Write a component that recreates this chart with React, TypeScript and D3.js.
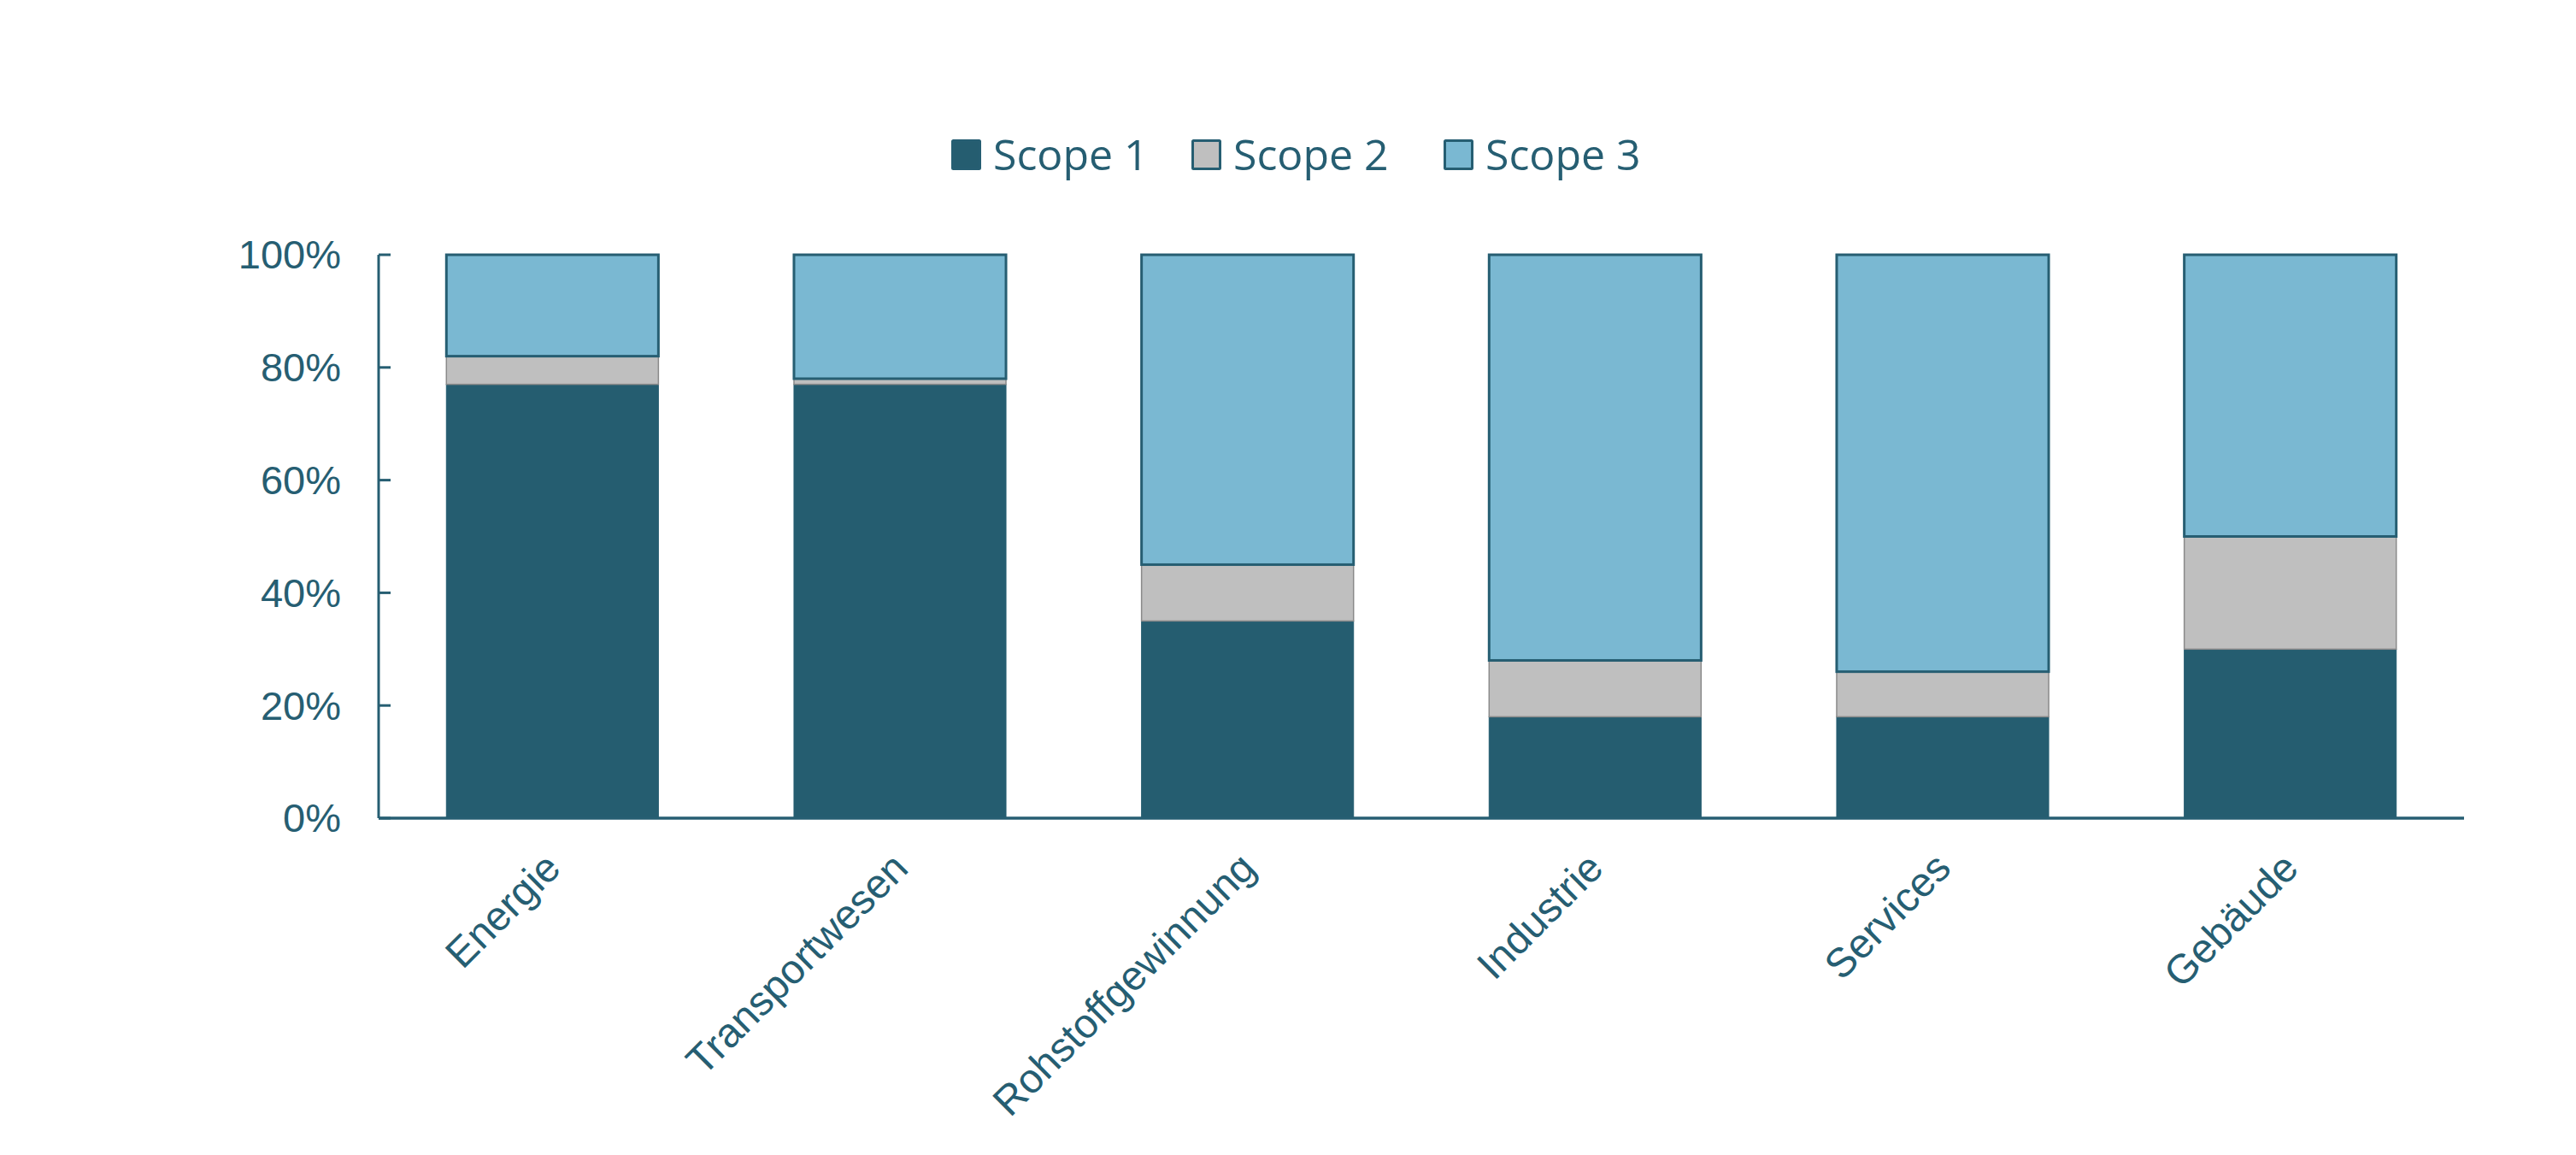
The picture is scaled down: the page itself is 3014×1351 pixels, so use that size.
import React from 'react';
import * as d3 from 'd3';

const categories = ['Energie', 'Transportwesen', 'Rohstoffgewinnung', 'Industrie', 'Services', 'Gebäude'];
const scope1 = [77, 77, 35, 18, 18, 30];
const scope2 = [5, 1, 10, 10, 8, 20];
const scope3 = [18, 22, 55, 72, 74, 50];
const seriesNames = ['Scope 1', 'Scope 2', 'Scope 3'];
const yTicks = [0, 20, 40, 60, 80, 100];

const W = 3014;
const H = 1351;
const TEXT = '#265e72';
const fills = ['#255d70', '#bfbfbf', '#7ab8d2'];
const barStrokes = ['#255d70', '#8a8a8a', '#265e72'];
const barStrokeW = [1, 1.5, 3];
const legendX = [1113, 1394, 1689];

export default function App() {
  const rows = categories.map((c, i) => ({ cat: c, 'Scope 1': scope1[i], 'Scope 2': scope2[i], 'Scope 3': scope3[i] }));
  const stack = d3.stack<any>().keys(seriesNames)(rows);

  const x = d3.scaleBand().domain(categories).range([443, 2883]).paddingInner(0.39).paddingOuter(0.195);
  const y = d3.scaleLinear().domain([0, 100]).range([957, 298]);
  const axisX = 443;

  return (
    <svg width={W} height={H} style={{ position: 'absolute', left: 0, top: 0, background: '#fff' }}>
      <rect x={0} y={0} width={W} height={H} fill="#fff" />
      {stack.map((layer, si) => (
        <g key={layer.key}>
          {layer.map((d: any, i: number) => (
            <rect
              key={i}
              x={x(categories[i])}
              y={y(d[1])}
              width={x.bandwidth()}
              height={Math.max(0, y(d[0]) - y(d[1]))}
              fill={fills[si]}
              stroke={barStrokes[si]}
              strokeWidth={barStrokeW[si]}
            />
          ))}
        </g>
      ))}
      <line x1={axisX} x2={axisX} y1={y(100)} y2={y(0)} stroke={TEXT} strokeWidth={3} />
      {yTicks.map(t => (
        <g key={t}>
          <line x1={axisX} x2={axisX + 14} y1={y(t)} y2={y(t)} stroke={TEXT} strokeWidth={3} />
          <text
            x={399}
            y={y(t)}
            dy="0.35em"
            textAnchor="end"
            fontFamily="'Liberation Sans', Arial, sans-serif"
            fontSize={47}
            fill={TEXT}
          >
            {t + '%'}
          </text>
        </g>
      ))}
      <line x1={axisX} x2={2883} y1={y(0)} y2={y(0)} stroke={TEXT} strokeWidth={3.5} />
      {categories.map(c => {
        const cx = (x(c) as number) + x.bandwidth() / 2;
        return (
          <text
            key={c}
            transform={`translate(${cx + 12},${1018}) rotate(-45)`}
            textAnchor="end"
            fontFamily="'Liberation Sans', Arial, sans-serif"
            fontSize={48}
            fill={TEXT}
          >
            {c}
          </text>
        );
      })}
      {seriesNames.map((s, i) => (
        <g key={s} transform={`translate(${legendX[i]},163)`}>
          <rect
            x={1.5}
            y={1.5}
            width={32}
            height={33}
            fill={fills[i]}
            stroke={TEXT}
            strokeWidth={3}
            rx={1}
          />
          <text
            x={49}
            y={18}
            dy="0.36em"
            fontFamily="'Open Sans', sans-serif"
            fontSize={50}
            fill={TEXT}
          >
            {s}
          </text>
        </g>
      ))}
    </svg>
  );
}
